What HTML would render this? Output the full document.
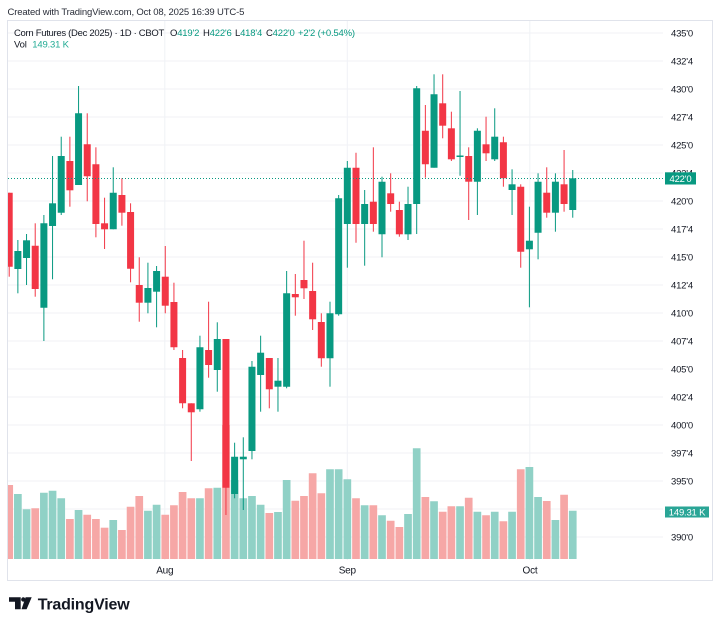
<!DOCTYPE html>
<html>
<head>
<meta charset="utf-8">
<style>
html,body{margin:0;padding:0;background:#fff;}
svg{display:block;font-family:"Liberation Sans",Arial,sans-serif;}
.g line{stroke:#089981;}
.r line{stroke:#f23645;}
.w{stroke-width:1;}
.b{stroke-width:7;}
.vg{stroke:#90d1c6;stroke-width:7.7;}
.vr{stroke:#f6a7a6;stroke-width:7.7;}
.grid line{stroke:#f0f2f6;stroke-width:1;}
.ax text{font-size:9.5px;fill:#131722;letter-spacing:-0.2px;}
</style>
</head>
<body>
<svg width="720" height="627" viewBox="0 0 720 627" xmlns="http://www.w3.org/2000/svg">
<defs><clipPath id="pc"><rect x="8" y="21" width="655" height="539"/></clipPath></defs>
<rect width="720" height="627" fill="#fff"/>
<text x="7.5" y="15" font-size="9.5" letter-spacing="-0.15" fill="#2a2e39">Created with TradingView.com, Oct 08, 2025 16:39 UTC-5</text>
<rect x="7.5" y="20.5" width="705" height="560" fill="none" stroke="#e0e3eb" stroke-width="1"/>

<g class="grid">
<line x1="8" x2="663" y1="33" y2="33"/><line x1="8" x2="663" y1="61" y2="61"/><line x1="8" x2="663" y1="89" y2="89"/><line x1="8" x2="663" y1="117" y2="117"/><line x1="8" x2="663" y1="145" y2="145"/><line x1="8" x2="663" y1="173" y2="173"/><line x1="8" x2="663" y1="201" y2="201"/><line x1="8" x2="663" y1="229" y2="229"/><line x1="8" x2="663" y1="257" y2="257"/><line x1="8" x2="663" y1="285" y2="285"/><line x1="8" x2="663" y1="313" y2="313"/><line x1="8" x2="663" y1="341" y2="341"/><line x1="8" x2="663" y1="369" y2="369"/><line x1="8" x2="663" y1="397" y2="397"/><line x1="8" x2="663" y1="425" y2="425"/><line x1="8" x2="663" y1="453" y2="453"/><line x1="8" x2="663" y1="481" y2="481"/><line x1="8" x2="663" y1="509" y2="509"/><line x1="8" x2="663" y1="537" y2="537"/>
<line x1="164.8" x2="164.8" y1="21" y2="560"/><line x1="347.3" x2="347.3" y1="21" y2="560"/><line x1="529.8" x2="529.8" y1="21" y2="560"/>
</g>

<g clip-path="url(#pc)">
<!-- volume -->
<line class="vr" x1="9.2" x2="9.2" y1="485" y2="559"/>
<line class="vg" x1="17.87" x2="17.87" y1="494" y2="559"/>
<line class="vg" x1="26.54" x2="26.54" y1="509.3" y2="559"/>
<line class="vr" x1="35.21" x2="35.21" y1="508.3" y2="559"/>
<line class="vg" x1="43.88" x2="43.88" y1="492.7" y2="559"/>
<line class="vg" x1="52.55" x2="52.55" y1="490.7" y2="559"/>
<line class="vg" x1="61.22" x2="61.22" y1="498.3" y2="559"/>
<line class="vr" x1="69.89" x2="69.89" y1="519" y2="559"/>
<line class="vg" x1="78.56" x2="78.56" y1="510" y2="559"/>
<line class="vr" x1="87.23" x2="87.23" y1="514.7" y2="559"/>
<line class="vr" x1="95.9" x2="95.9" y1="519" y2="559"/>
<line class="vr" x1="104.57" x2="104.57" y1="527.7" y2="559"/>
<line class="vg" x1="113.24" x2="113.24" y1="520" y2="559"/>
<line class="vr" x1="121.91" x2="121.91" y1="530" y2="559"/>
<line class="vr" x1="130.58" x2="130.58" y1="506.7" y2="559"/>
<line class="vr" x1="139.25" x2="139.25" y1="496" y2="559"/>
<line class="vg" x1="147.92" x2="147.92" y1="510.7" y2="559"/>
<line class="vg" x1="156.59" x2="156.59" y1="504.7" y2="559"/>
<line class="vr" x1="165.26" x2="165.26" y1="514.7" y2="559"/>
<line class="vr" x1="173.93" x2="173.93" y1="505.3" y2="559"/>
<line class="vr" x1="182.6" x2="182.6" y1="492" y2="559"/>
<line class="vr" x1="191.27" x2="191.27" y1="498.3" y2="559"/>
<line class="vg" x1="199.94" x2="199.94" y1="498.3" y2="559"/>
<line class="vr" x1="208.61" x2="208.61" y1="488.3" y2="559"/>
<line class="vg" x1="217.28" x2="217.28" y1="487.7" y2="559"/>
<line class="vr" x1="225.95" x2="225.95" y1="425" y2="559"/>
<line class="vg" x1="234.62" x2="234.62" y1="480" y2="559"/>
<line class="vg" x1="243.29" x2="243.29" y1="498.3" y2="559"/>
<line class="vg" x1="251.96" x2="251.96" y1="496" y2="559"/>
<line class="vg" x1="260.63" x2="260.63" y1="504.7" y2="559"/>
<line class="vr" x1="269.3" x2="269.3" y1="513" y2="559"/>
<line class="vg" x1="277.97" x2="277.97" y1="512" y2="559"/>
<line class="vg" x1="286.64" x2="286.64" y1="480" y2="559"/>
<line class="vr" x1="295.31" x2="295.31" y1="500.7" y2="559"/>
<line class="vr" x1="303.98" x2="303.98" y1="496" y2="559"/>
<line class="vr" x1="312.65" x2="312.65" y1="473.3" y2="559"/>
<line class="vr" x1="321.32" x2="321.32" y1="493.3" y2="559"/>
<line class="vg" x1="329.99" x2="329.99" y1="469.3" y2="559"/>
<line class="vg" x1="338.66" x2="338.66" y1="469.3" y2="559"/>
<line class="vg" x1="347.33" x2="347.33" y1="479.3" y2="559"/>
<line class="vr" x1="356" x2="356" y1="498.3" y2="559"/>
<line class="vg" x1="364.67" x2="364.67" y1="505.3" y2="559"/>
<line class="vr" x1="373.34" x2="373.34" y1="505.3" y2="559"/>
<line class="vg" x1="382.01" x2="382.01" y1="515.3" y2="559"/>
<line class="vr" x1="390.68" x2="390.68" y1="520.7" y2="559"/>
<line class="vr" x1="399.35" x2="399.35" y1="527" y2="559"/>
<line class="vg" x1="408.02" x2="408.02" y1="514" y2="559"/>
<line class="vg" x1="416.69" x2="416.69" y1="448.3" y2="559"/>
<line class="vr" x1="425.36" x2="425.36" y1="497" y2="559"/>
<line class="vg" x1="434.03" x2="434.03" y1="501.3" y2="559"/>
<line class="vr" x1="442.7" x2="442.7" y1="511.7" y2="559"/>
<line class="vr" x1="451.37" x2="451.37" y1="506.3" y2="559"/>
<line class="vg" x1="460.04" x2="460.04" y1="506.3" y2="559"/>
<line class="vr" x1="468.71" x2="468.71" y1="497.7" y2="559"/>
<line class="vg" x1="477.38" x2="477.38" y1="511.7" y2="559"/>
<line class="vr" x1="486.05" x2="486.05" y1="515.3" y2="559"/>
<line class="vg" x1="494.72" x2="494.72" y1="511.7" y2="559"/>
<line class="vr" x1="503.39" x2="503.39" y1="521.3" y2="559"/>
<line class="vg" x1="512.06" x2="512.06" y1="511.7" y2="559"/>
<line class="vr" x1="520.73" x2="520.73" y1="469.3" y2="559"/>
<line class="vg" x1="529.4" x2="529.4" y1="467" y2="559"/>
<line class="vg" x1="538.07" x2="538.07" y1="497" y2="559"/>
<line class="vr" x1="546.74" x2="546.74" y1="501" y2="559"/>
<line class="vg" x1="555.41" x2="555.41" y1="520" y2="559"/>
<line class="vr" x1="564.08" x2="564.08" y1="494.7" y2="559"/>
<line class="vg" x1="572.75" x2="572.75" y1="510.7" y2="559"/>

<!-- candles -->
<g class="r" transform="translate(9.2)"><line class="w" y1="192.7" y2="276.7"/><line class="b" y1="192.7" y2="266.7"/></g>
<g class="g" transform="translate(17.87)"><line class="w" y1="240" y2="293.3"/><line class="b" y1="251" y2="269"/></g>
<g class="g" transform="translate(26.54)"><line class="w" y1="234" y2="285"/><line class="b" y1="240.3" y2="258"/></g>
<g class="r" transform="translate(35.21)"><line class="w" y1="223.3" y2="296.7"/><line class="b" y1="245.7" y2="289"/></g>
<g class="g" transform="translate(43.88)"><line class="w" y1="215" y2="341"/><line class="b" y1="223.3" y2="307.7"/></g>
<g class="g" transform="translate(52.55)"><line class="w" y1="156" y2="279.3"/><line class="b" y1="203.3" y2="226"/></g>
<g class="g" transform="translate(61.22)"><line class="w" y1="136.7" y2="215"/><line class="b" y1="156" y2="212.7"/></g>
<g class="r" transform="translate(69.89)"><line class="w" y1="136.7" y2="206.7"/><line class="b" y1="161" y2="190.3"/></g>
<g class="g" transform="translate(78.56)"><line class="w" y1="86" y2="185"/><line class="b" y1="113.3" y2="185"/></g>
<g class="r" transform="translate(87.23)"><line class="w" y1="113.3" y2="201.3"/><line class="b" y1="144.3" y2="176.3"/></g>
<g class="r" transform="translate(95.9)"><line class="w" y1="147.3" y2="237.3"/><line class="b" y1="164.3" y2="224"/></g>
<g class="r" transform="translate(104.57)"><line class="w" y1="197.7" y2="249"/><line class="b" y1="223.3" y2="229.3"/></g>
<g class="g" transform="translate(113.24)"><line class="w" y1="167.3" y2="229.3"/><line class="b" y1="192.7" y2="229.3"/></g>
<g class="r" transform="translate(121.91)"><line class="w" y1="178.3" y2="225.7"/><line class="b" y1="195" y2="212.7"/></g>
<g class="r" transform="translate(130.58)"><line class="w" y1="203.3" y2="282.3"/><line class="b" y1="212" y2="268.7"/></g>
<g class="r" transform="translate(139.25)"><line class="w" y1="257.3" y2="321.7"/><line class="b" y1="285" y2="302.7"/></g>
<g class="g" transform="translate(147.92)"><line class="w" y1="262.7" y2="313.3"/><line class="b" y1="288" y2="302.7"/></g>
<g class="g" transform="translate(156.59)"><line class="w" y1="266" y2="327.3"/><line class="b" y1="271" y2="291.7"/></g>
<g class="r" transform="translate(165.26)"><line class="w" y1="246" y2="313.3"/><line class="b" y1="276.7" y2="305.7"/></g>
<g class="r" transform="translate(173.93)"><line class="w" y1="282.7" y2="350"/><line class="b" y1="302" y2="347.3"/></g>
<g class="r" transform="translate(182.6)"><line class="w" y1="350" y2="408.3"/><line class="b" y1="358" y2="403.3"/></g>
<g class="r" transform="translate(191.27)"><line class="w" y1="403.3" y2="461"/><line class="b" y1="403.3" y2="412.3"/></g>
<g class="g" transform="translate(199.94)"><line class="w" y1="335.7" y2="411.7"/><line class="b" y1="347.3" y2="409.3"/></g>
<g class="r" transform="translate(208.61)"><line class="w" y1="301.7" y2="377.7"/><line class="b" y1="350" y2="365"/></g>
<g class="g" transform="translate(217.28)"><line class="w" y1="322.3" y2="391.7"/><line class="b" y1="339" y2="370"/></g>
<g class="r" transform="translate(225.95)"><line class="w" y1="339" y2="515"/><line class="b" y1="339" y2="487.7"/></g>
<g class="g" transform="translate(234.62)"><line class="w" y1="442.7" y2="498.3"/><line class="b" y1="456.7" y2="494"/></g>
<g class="g" transform="translate(243.29)"><line class="w" y1="437.3" y2="510"/><line class="b" y1="456.7" y2="459.3"/></g>
<g class="g" transform="translate(251.96)"><line class="w" y1="361" y2="459.3"/><line class="b" y1="366.7" y2="451"/></g>
<g class="g" transform="translate(260.63)"><line class="w" y1="335.7" y2="411.7"/><line class="b" y1="352.7" y2="375"/></g>
<g class="r" transform="translate(269.3)"><line class="w" y1="358" y2="408.3"/><line class="b" y1="358" y2="389.3"/></g>
<g class="g" transform="translate(277.97)"><line class="w" y1="358" y2="411.7"/><line class="b" y1="380.7" y2="386.7"/></g>
<g class="g" transform="translate(286.64)"><line class="w" y1="271" y2="388.3"/><line class="b" y1="293.3" y2="386.7"/></g>
<g class="r" transform="translate(295.31)"><line class="w" y1="274" y2="315.7"/><line class="b" y1="294" y2="297.3"/></g>
<g class="r" transform="translate(303.98)"><line class="w" y1="240.7" y2="299"/><line class="b" y1="280" y2="288.3"/></g>
<g class="r" transform="translate(312.65)"><line class="w" y1="262.7" y2="330"/><line class="b" y1="291" y2="319.3"/></g>
<g class="r" transform="translate(321.32)"><line class="w" y1="313.3" y2="366.7"/><line class="b" y1="322" y2="358.3"/></g>
<g class="g" transform="translate(329.99)"><line class="w" y1="301.7" y2="386.7"/><line class="b" y1="313.3" y2="358.3"/></g>
<g class="g" transform="translate(338.66)"><line class="w" y1="195" y2="315.7"/><line class="b" y1="198.3" y2="314.3"/></g>
<g class="g" transform="translate(347.33)"><line class="w" y1="161" y2="267.7"/><line class="b" y1="167.7" y2="224"/></g>
<g class="r" transform="translate(356)"><line class="w" y1="152.7" y2="242.7"/><line class="b" y1="167.7" y2="224"/></g>
<g class="g" transform="translate(364.67)"><line class="w" y1="190" y2="265.7"/><line class="b" y1="204" y2="224"/></g>
<g class="r" transform="translate(373.34)"><line class="w" y1="147.3" y2="231.7"/><line class="b" y1="201.7" y2="224"/></g>
<g class="g" transform="translate(382.01)"><line class="w" y1="176.7" y2="257.3"/><line class="b" y1="181.7" y2="234.3"/></g>
<g class="r" transform="translate(390.68)"><line class="w" y1="173.3" y2="211.7"/><line class="b" y1="193.3" y2="204"/></g>
<g class="r" transform="translate(399.35)"><line class="w" y1="201.7" y2="236.7"/><line class="b" y1="210" y2="234.3"/></g>
<g class="g" transform="translate(408.02)"><line class="w" y1="186.7" y2="240"/><line class="b" y1="204" y2="234.3"/></g>
<g class="g" transform="translate(416.69)"><line class="w" y1="86" y2="234"/><line class="b" y1="88.3" y2="204"/></g>
<g class="r" transform="translate(425.36)"><line class="w" y1="105" y2="177.7"/><line class="b" y1="130.7" y2="164.3"/></g>
<g class="g" transform="translate(434.03)"><line class="w" y1="74.3" y2="167.7"/><line class="b" y1="94.3" y2="167.7"/></g>
<g class="r" transform="translate(442.7)"><line class="w" y1="74.3" y2="138.3"/><line class="b" y1="103.3" y2="125.7"/></g>
<g class="r" transform="translate(451.37)"><line class="w" y1="111.7" y2="161"/><line class="b" y1="128.3" y2="159.3"/></g>
<g class="g" transform="translate(460.04)"><line class="w" y1="91" y2="175.7"/><line class="b" y1="155.5" y2="157"/></g>
<g class="r" transform="translate(468.71)"><line class="w" y1="147.3" y2="220"/><line class="b" y1="156" y2="181.7"/></g>
<g class="g" transform="translate(477.38)"><line class="w" y1="128.3" y2="215"/><line class="b" y1="130.7" y2="181.7"/></g>
<g class="r" transform="translate(486.05)"><line class="w" y1="116.7" y2="161"/><line class="b" y1="144.3" y2="153.3"/></g>
<g class="g" transform="translate(494.72)"><line class="w" y1="108.3" y2="161"/><line class="b" y1="136.7" y2="159.3"/></g>
<g class="r" transform="translate(503.39)"><line class="w" y1="136.7" y2="186.7"/><line class="b" y1="142.3" y2="178.3"/></g>
<g class="g" transform="translate(512.06)"><line class="w" y1="169.3" y2="215"/><line class="b" y1="184.3" y2="190"/></g>
<g class="r" transform="translate(520.73)"><line class="w" y1="184.3" y2="267.7"/><line class="b" y1="186.7" y2="251.7"/></g>
<g class="g" transform="translate(529.4)"><line class="w" y1="206.7" y2="307.3"/><line class="b" y1="240.7" y2="249.3"/></g>
<g class="g" transform="translate(538.07)"><line class="w" y1="173.3" y2="259.3"/><line class="b" y1="181.7" y2="232.7"/></g>
<g class="r" transform="translate(546.74)"><line class="w" y1="167.3" y2="217.7"/><line class="b" y1="192.7" y2="212.7"/></g>
<g class="g" transform="translate(555.41)"><line class="w" y1="173.3" y2="231.7"/><line class="b" y1="181.7" y2="212.7"/></g>
<g class="r" transform="translate(564.08)"><line class="w" y1="150" y2="211.7"/><line class="b" y1="184.3" y2="204"/></g>
<g class="g" transform="translate(572.75)"><line class="w" y1="170" y2="217.7"/><line class="b" y1="178.3" y2="210"/></g>
</g>

<!-- current price line -->
<line x1="8" x2="664" y1="178.5" y2="178.5" stroke="#089981" stroke-width="1" stroke-dasharray="1 2"/>

<!-- price axis -->
<g class="ax">
<text x="671" y="36.4">435'0</text>
<text x="671" y="64.4">432'4</text>
<text x="671" y="92.4">430'0</text>
<text x="671" y="120.4">427'4</text>
<text x="671" y="148.4">425'0</text>
<text x="671" y="176.4">422'4</text>
<text x="671" y="204.4">420'0</text>
<text x="671" y="232.4">417'4</text>
<text x="671" y="260.4">415'0</text>
<text x="671" y="288.4">412'4</text>
<text x="671" y="316.4">410'0</text>
<text x="671" y="344.4">407'4</text>
<text x="671" y="372.4">405'0</text>
<text x="671" y="400.4">402'4</text>
<text x="671" y="428.4">400'0</text>
<text x="671" y="456.4">397'4</text>
<text x="671" y="484.4">395'0</text>
<text x="671" y="540.4">390'0</text>
<text x="164.8" y="573.5" text-anchor="middle" style="font-size:10px">Aug</text>
<text x="347.3" y="573.5" text-anchor="middle" style="font-size:10px">Sep</text>
<text x="530" y="573.5" text-anchor="middle" style="font-size:10px">Oct</text>
</g>
<rect x="665" y="172.3" width="31" height="12.2" fill="#089981"/>
<text x="680.5" y="181.8" text-anchor="middle" font-size="9.5" fill="#fff" letter-spacing="-0.2">422'0</text>
<rect x="665" y="506.5" width="44" height="11" fill="#2aa596"/>
<text x="687" y="515.4" text-anchor="middle" font-size="9.5" fill="#fff" letter-spacing="-0.2">149.31 K</text>

<!-- legend -->
<g font-size="9.5">
<text x="14" y="36" fill="#131722" letter-spacing="-0.3">Corn Futures (Dec 2025) · 1D · CBOT</text>
<text x="170" y="36" fill="#131722" letter-spacing="-0.2">O<tspan fill="#089981">419'2</tspan></text>
<text x="203" y="36" fill="#131722" letter-spacing="-0.2">H<tspan fill="#089981">422'6</tspan></text>
<text x="235" y="36" fill="#131722" letter-spacing="-0.2">L<tspan fill="#089981">418'4</tspan></text>
<text x="266" y="36" fill="#131722" letter-spacing="-0.2">C<tspan fill="#089981">422'0</tspan></text>
<text x="298" y="36" fill="#089981" letter-spacing="-0.2">+2'2 (+0.54%)</text>
<text x="14" y="47.7" fill="#131722" letter-spacing="-0.2">Vol</text>
<text x="32.3" y="47.7" fill="#22ab94" letter-spacing="-0.2">149.31 K</text>
</g>

<!-- logo -->
<g fill="#131722">
<path d="M9 597.3 H20.7 V609.3 H15 V601.7 H9 Z"/>
<circle cx="23.3" cy="599.5" r="2.2"/>
<path d="M25.6 597.3 H31.7 L26.6 609.3 H21.5 Z"/>
<text x="37.7" y="609.3" font-size="16" font-weight="bold" letter-spacing="-0.2">TradingView</text>
</g>
</svg>
</body>
</html>
